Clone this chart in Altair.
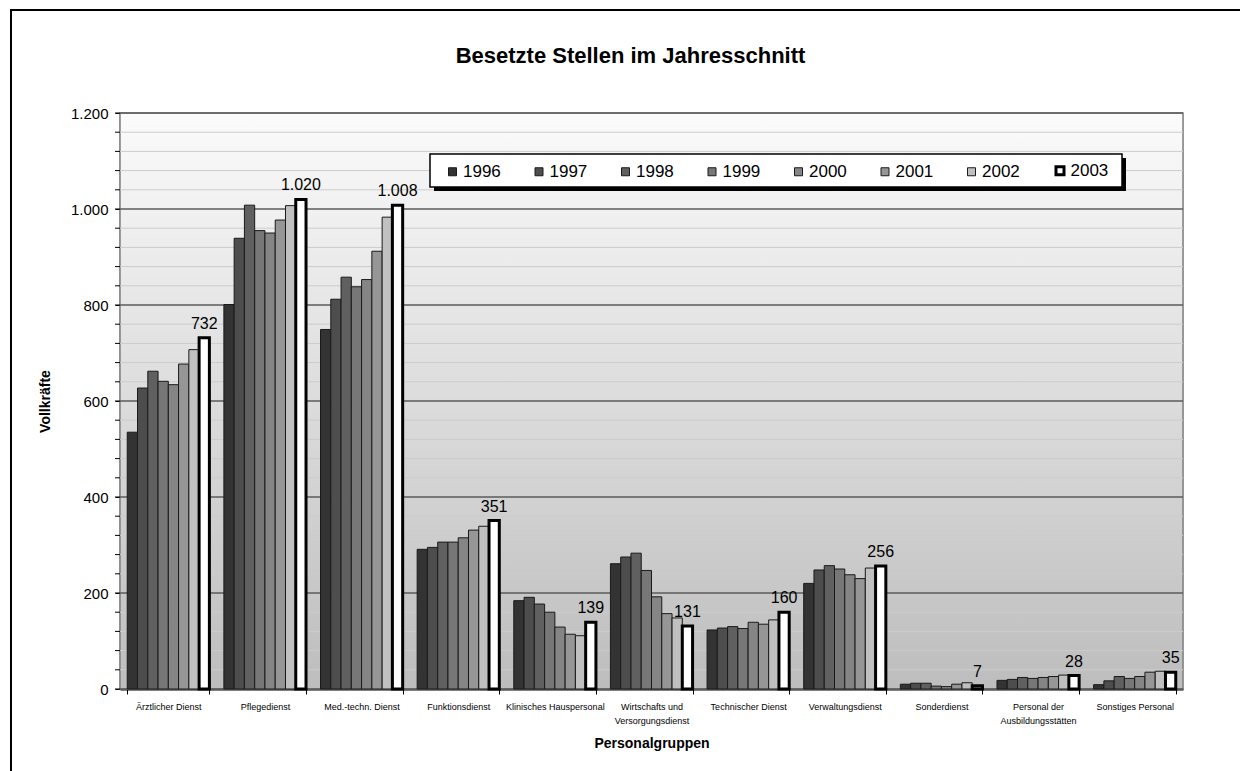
import altair as alt
import pandas as pd

# Personnel groups (x categories)
categories = [
    "Ärztlicher Dienst",
    "Pflegedienst",
    "Med.-techn. Dienst",
    "Funktionsdienst",
    "Klinisches Hauspersonal",
    "Wirtschafts und Versorgungsdienst",
    "Technischer Dienst",
    "Verwaltungsdienst",
    "Sonderdienst",
    "Personal der Ausbildungsstätten",
    "Sonstiges Personal",
]

years = ["1996", "1997", "1998", "1999", "2000", "2001", "2002", "2003"]

# Full-time equivalents per year, in the order of `categories`
v1996 = [535, 801, 749, 291, 184, 261, 123, 220, 10, 18, 9]
v1997 = [627, 939, 812, 295, 191, 275, 127, 248, 12, 20, 17]
v1998 = [662, 1008, 858, 306, 177, 283, 130, 257, 12, 24, 26]
v1999 = [641, 955, 838, 306, 160, 247, 126, 250, 6, 22, 22]
v2000 = [634, 950, 853, 315, 129, 192, 139, 238, 5, 24, 26]
v2001 = [677, 977, 912, 331, 114, 157, 135, 230, 10, 26, 35]
v2002 = [707, 1007, 983, 339, 111, 148, 144, 252, 13, 29, 37]
v2003 = [732, 1020, 1008, 351, 139, 131, 160, 256, 7, 28, 35]

series = [v1996, v1997, v1998, v1999, v2000, v2001, v2002, v2003]

major_ticks = [0, 200, 400, 600, 800, 1000, 1200]
minor_ticks = list(range(0, 1201, 40))

fill_colors = ["#333333", "#4d4d4d", "#606060", "#777777", "#858585",
               "#969696", "#c0c0c0", "#ffffff"]
stroke_colors = ["#1a1a1a"] * 7 + ["#000000"]
stroke_widths = [1] * 7 + [3]

rows = []
for year, vals in zip(years, series):
    for cat, val in zip(categories, vals):
        rows.append({"group": cat, "year": year, "value": val})
df = pd.DataFrame(rows)

W, H = 1063, 576
FONT = "Liberation Sans"

x_label_expr = (
    "datum.value == 'Wirtschafts und Versorgungsdienst' ? ['Wirtschafts und', 'Versorgungsdienst'] : "
    "datum.value == 'Personal der Ausbildungsstätten' ? ['Personal der', 'Ausbildungsstätten'] : datum.value"
)

x_enc = alt.X(
    "group:N",
    sort=categories,
    scale=alt.Scale(paddingInner=0.15, paddingOuter=0.075),
    axis=alt.Axis(
        title="Personalgruppen",
        titleFont=FONT, titleFontSize=14, titleFontWeight="bold", titleColor="black",
        titleY=47, titleBaseline="top",
        labelFont="Liberation Sans Narrow, Liberation Sans", labelFontSize=9, labelColor="black",
        labelAngle=0, labelPadding=8, labelLineHeight=14, labelExpr=x_label_expr,
        tickBand="extent", tickSize=5, tickColor="black",
        domainColor="black", domainWidth=2, grid=False,
    ),
)
xoff_enc = alt.XOffset("year:N", sort=years, scale=alt.Scale(paddingInner=0, paddingOuter=0))
y_scale = alt.Scale(domain=[0, 1200], nice=False)

y_axis = alt.Axis(
    title="Vollkräfte", values=major_ticks,
    labelExpr="replace(format(datum.value, ','), ',', '.')",
    titleFont=FONT, titleFontSize=14, titleFontWeight="bold", titleColor="black",
    titleX=-75, titleY=H / 2, titleAngle=270, titleAlign="center", titleBaseline="middle",
    labelFont=FONT, labelFontSize=15, labelColor="black", labelPadding=7,
    tickSize=5, tickColor="black", domainColor="black", domainWidth=1.5, grid=False,
)


def y_enc(field="value"):
    return alt.Y(f"{field}:Q", scale=y_scale, axis=y_axis, title="Vollkräfte")


legend = alt.Legend(
    title=None, orient="none", legendX=324, legendY=49,
    direction="horizontal", columns=8, columnPadding=29.5,
    symbolType="square", symbolSize=64,
    labelFont=FONT, labelFontSize=17, labelColor="black", labelOffset=2,
    padding=0,
)

one = pd.DataFrame({"k": [0]})

# plot area background with vertical gradient
background = alt.Chart(one).mark_rect(
    fill=alt.LinearGradient(
        gradient="linear", x1=0, x2=0, y1=0, y2=1,
        stops=[alt.GradientStop(color="#fbfbfb", offset=0),
               alt.GradientStop(color="#bdbdbd", offset=1)],
    ),
    stroke="#808080", strokeWidth=1.5,
).encode(x=alt.value(0), x2=alt.value(W), y=alt.value(0), y2=alt.value(H))

minor_df = pd.DataFrame({"value": minor_ticks})
major_df = pd.DataFrame({"value": major_ticks})

minor_grid = alt.Chart(minor_df).mark_rule(color="#cccccc", strokeWidth=1).encode(
    y=y_enc(), x=alt.value(0), x2=alt.value(W)
)
major_grid = alt.Chart(major_df).mark_rule(color="#222222", strokeWidth=1).encode(
    y=y_enc(), x=alt.value(0), x2=alt.value(W)
)
minor_tick_marks = alt.Chart(minor_df).mark_rule(color="black", strokeWidth=1).encode(
    y=y_enc(), x=alt.value(-5), x2=alt.value(0)
)

bars = alt.Chart(df).mark_bar().encode(
    x=x_enc,
    xOffset=xoff_enc,
    y=y_enc(),
    fill=alt.Fill("year:N", scale=alt.Scale(domain=years, range=fill_colors), legend=legend),
    stroke=alt.Stroke("year:N", scale=alt.Scale(domain=years, range=stroke_colors), legend=legend),
    strokeWidth=alt.StrokeWidth(
        "year:N", scale=alt.Scale(type="ordinal", domain=years, range=stroke_widths), legend=legend
    ),
)

labels = alt.Chart(df).transform_filter(
    alt.datum.year == "2003"
).transform_calculate(
    label="replace(format(datum.value, ','), ',', '.')"
).mark_text(font=FONT, fontSize=16, color="black", baseline="bottom", dy=-6).encode(
    x=alt.X("group:N", sort=categories),
    xOffset=alt.XOffset("year:N", sort=years),
    y=y_enc(),
    text="label:N",
)

# legend frame with drop shadow (legend entries drawn on top)
legend_shadow = alt.Chart(one).mark_rect(fill="black").encode(
    x=alt.value(314), x2=alt.value(1006), y=alt.value(45), y2=alt.value(78)
)
legend_box = alt.Chart(one).mark_rect(fill="white", stroke="black", strokeWidth=1.5).encode(
    x=alt.value(310), x2=alt.value(1002), y=alt.value(41), y2=alt.value(74)
)

# chart title
title = alt.Chart(one).mark_text(
    text="Besetzte Stellen im Jahresschnitt", font=FONT, fontSize=22, fontWeight="bold",
    color="black", align="center", baseline="middle",
).encode(x=alt.value(W / 2 - 21), y=alt.value(-57))

# outer chart frame
frame = alt.Chart(one).mark_rect(fill=None, stroke="black", strokeWidth=2).encode(
    x=alt.value(-109), x2=alt.value(W + 200), y=alt.value(-103), y2=alt.value(H + 200)
)

chart = alt.layer(
    background, minor_grid, major_grid, minor_tick_marks, bars, labels,
    legend_shadow, legend_box, title, frame,
).properties(
    width=W, height=H,
    autosize=alt.AutoSizeParams(type="none"),
    padding={"left": 120, "top": 113, "right": 57, "bottom": 82},
).configure_view(stroke=None).configure(background="white")

chart.save("out.html", embed_options={"renderer": "svg", "actions": False})
